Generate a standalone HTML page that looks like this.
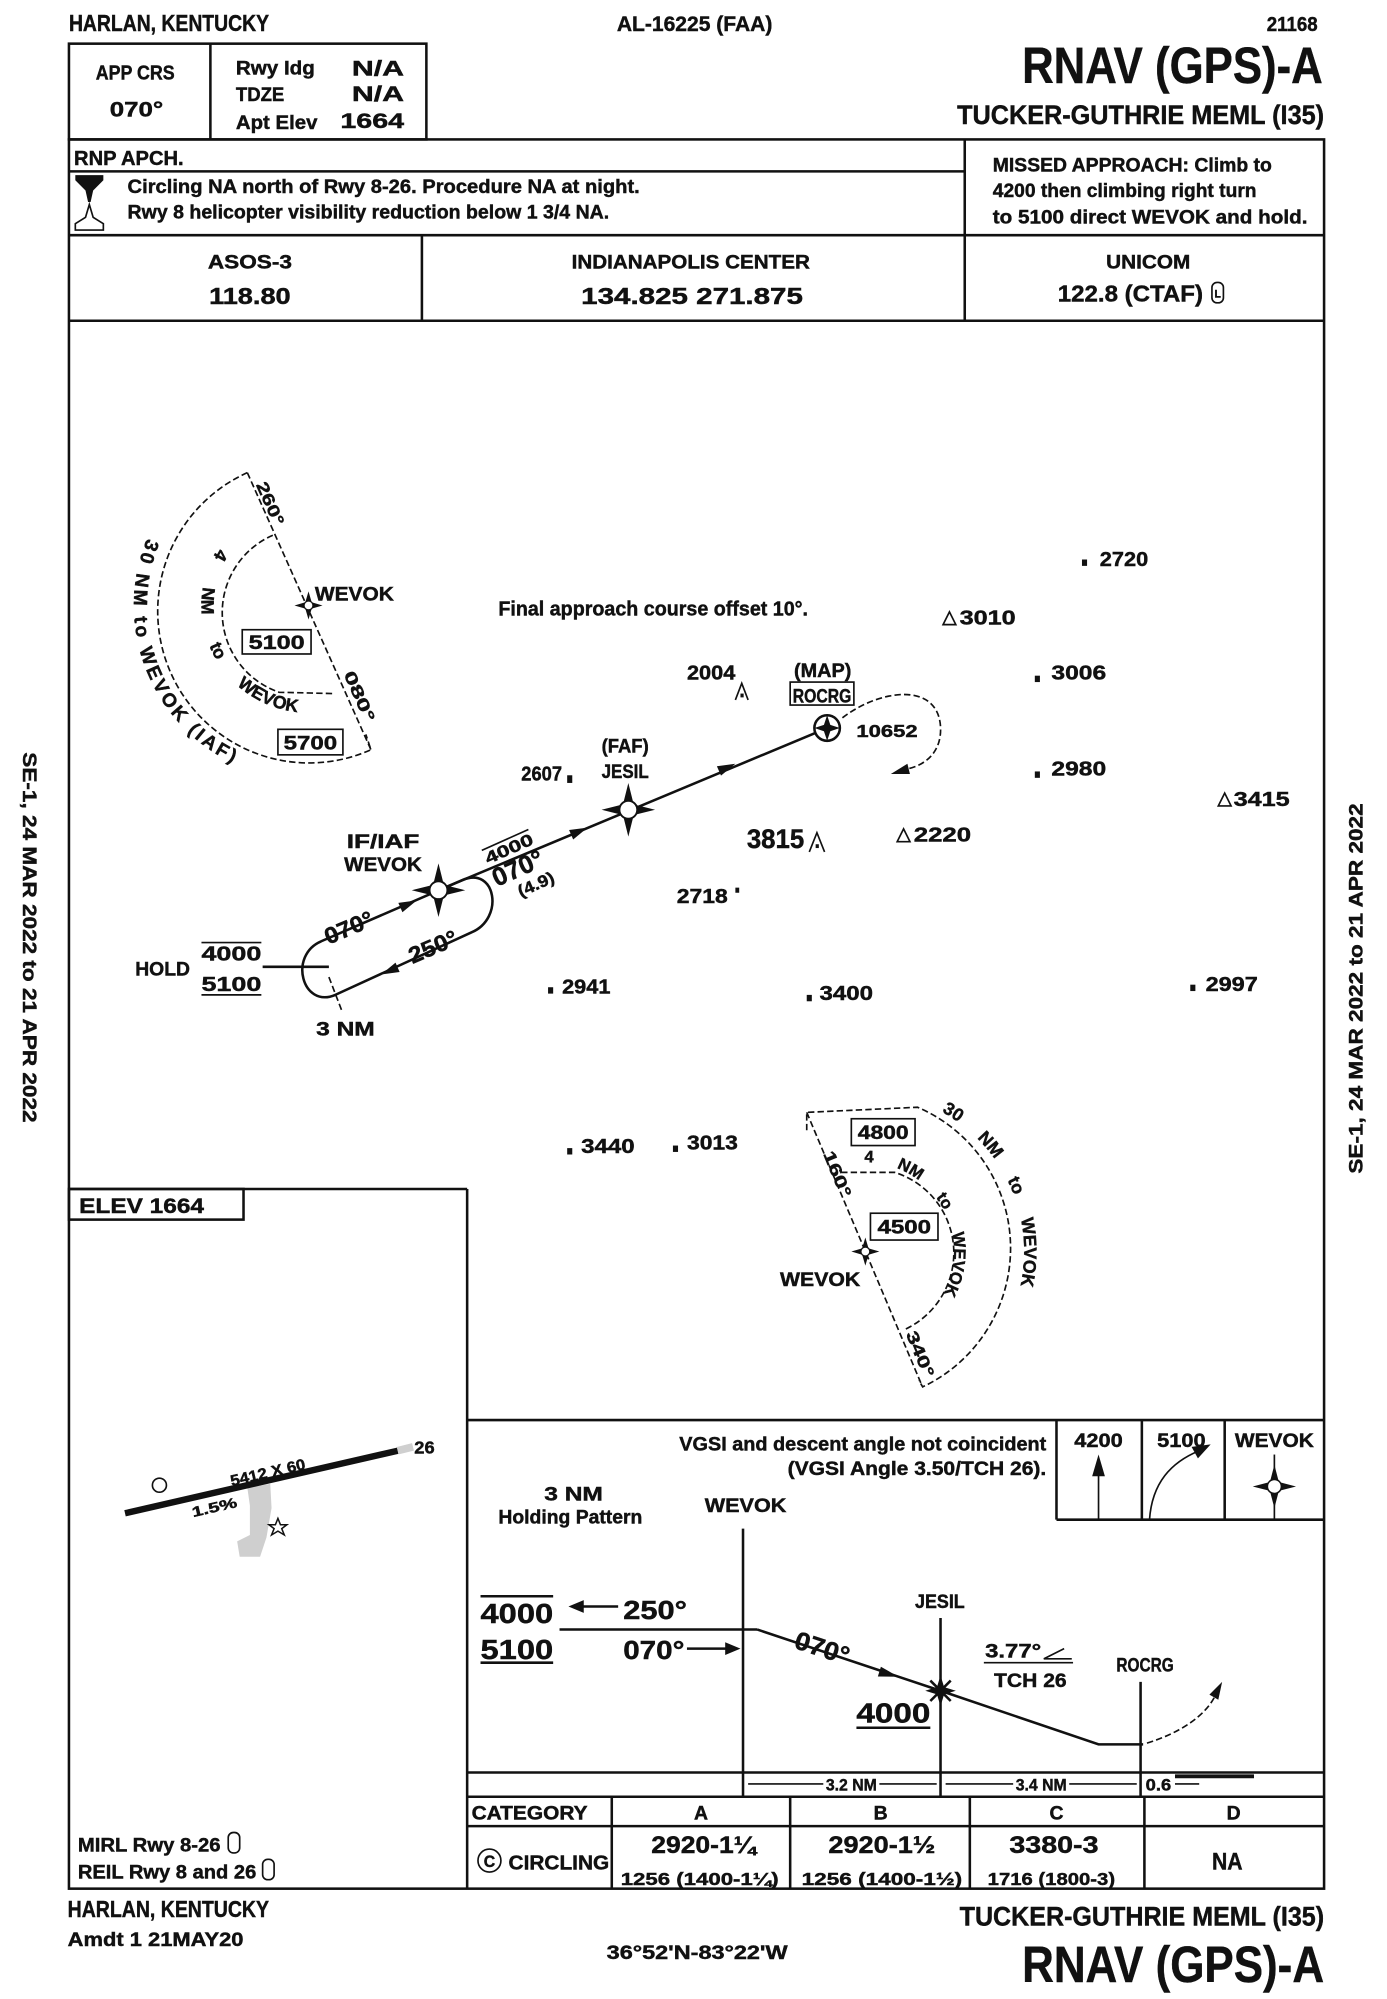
<!DOCTYPE html>
<html><head><meta charset="utf-8">
<style>
html,body{margin:0;padding:0;background:#fff;}
svg{display:block;}
text{font-family:"Liberation Sans Narrow","Liberation Sans",sans-serif;font-weight:bold;fill:#111;stroke:#111;stroke-width:0.35;}
.l{stroke:#111;stroke-width:2;fill:none;}
.t{stroke:#111;stroke-width:1.3;fill:none;}
.d{stroke:#111;stroke-width:1.3;fill:none;stroke-dasharray:5 2.5;}
.f{fill:#111;stroke:none;}
</style></head><body>
<svg width="1387" height="1999" viewBox="0 0 1080 1557" preserveAspectRatio="none" xmlns="http://www.w3.org/2000/svg">
<rect x="0" y="0" width="1080" height="1557" fill="#fff"/>
<defs>
<path id="p1" d="M 116.8 417.1 A 137 137 0 0 0 189.7 602"/>
<path id="p2" d="M 172.2 426.8 A 84 84 0 0 0 238.1 558.9"/>
<path id="p3" d="M 736.3 870.6 A 125 125 0 0 1 795.1 1023.8"/>
<path id="p4" d="M 675.2 911 A 70 70 0 0 1 734.9 1021.2"/>
</defs>
<g transform="matrix(0.9922 0 0 0.9945 1.1 -0.8)">

<!-- HEADER -->
<text x="53" y="25" font-size="18" textLength="157" lengthAdjust="spacingAndGlyphs">HARLAN, KENTUCKY</text>
<text x="483" y="25" font-size="17" textLength="122" lengthAdjust="spacingAndGlyphs">AL-16225 (FAA)</text>
<text x="1033" y="25" font-size="16" text-anchor="end" textLength="40" lengthAdjust="spacingAndGlyphs">21168</text>

<rect x="53" y="35" width="280.5" height="75" class="l"/>
<line x1="164" y1="35" x2="164" y2="110" class="l"/>
<text x="105" y="63" font-size="16" text-anchor="middle" textLength="62" lengthAdjust="spacingAndGlyphs">APP CRS</text>
<text x="106" y="92" font-size="17" text-anchor="middle" textLength="42" lengthAdjust="spacingAndGlyphs">070°</text>
<text x="184" y="59" font-size="15" textLength="62" lengthAdjust="spacingAndGlyphs">Rwy Idg</text>
<text x="184" y="80" font-size="15" textLength="38" lengthAdjust="spacingAndGlyphs">TDZE</text>
<text x="184" y="102" font-size="15" textLength="64" lengthAdjust="spacingAndGlyphs">Apt Elev</text>
<text x="275" y="60" font-size="17" textLength="41" lengthAdjust="spacingAndGlyphs">N/A</text>
<text x="275" y="80" font-size="17" textLength="41" lengthAdjust="spacingAndGlyphs">N/A</text>
<text x="266" y="101" font-size="17" textLength="50" lengthAdjust="spacingAndGlyphs">1664</text>

<text x="801" y="66" font-size="40" textLength="236" lengthAdjust="spacingAndGlyphs">RNAV (GPS)-A</text>
<text x="750" y="98" font-size="21" textLength="288" lengthAdjust="spacingAndGlyphs">TUCKER-GUTHRIE MEML (I35)</text>

<!-- main frame -->
<rect x="53" y="110" width="985" height="1370" class="l"/>
<line x1="53" y1="135" x2="756" y2="135" class="l"/>
<line x1="756" y1="110" x2="756" y2="252" class="l"/>
<line x1="53" y1="185" x2="1038" y2="185" class="l"/>
<line x1="330" y1="185" x2="330" y2="252" class="l"/>
<line x1="53" y1="252" x2="1038" y2="252" class="l"/>

<text x="57" y="130" font-size="16" textLength="86" lengthAdjust="spacingAndGlyphs">RNP APCH.</text>
<!-- hourglass -->
<polygon points="58,138 80,138 80,142 72,150 70,159 68,159 66,150 58,142" class="f"/>
<path d="M 69,161 L 66,171 L 58,176 L 58,181 L 80,181 L 80,176 L 72,171 Z" class="t" stroke-width="1.6"/>
<text x="99" y="152" font-size="15" textLength="402" lengthAdjust="spacingAndGlyphs">Circling NA north of Rwy 8-26.  Procedure NA at night.</text>
<text x="99" y="172" font-size="15" textLength="378" lengthAdjust="spacingAndGlyphs">Rwy 8 helicopter visibility reduction below 1 3/4 NA.</text>

<text x="778" y="135" font-size="15" textLength="219" lengthAdjust="spacingAndGlyphs">MISSED APPROACH: Climb to</text>
<text x="778" y="155" font-size="15" textLength="207" lengthAdjust="spacingAndGlyphs">4200 then climbing right turn</text>
<text x="778" y="176" font-size="15" textLength="247" lengthAdjust="spacingAndGlyphs">to 5100 direct WEVOK and hold.</text>

<text x="195" y="211" font-size="15" text-anchor="middle" textLength="66" lengthAdjust="spacingAndGlyphs">ASOS-3</text>
<text x="195" y="239" font-size="18" text-anchor="middle" textLength="64" lengthAdjust="spacingAndGlyphs">118.80</text>
<text x="541" y="211" font-size="15" text-anchor="middle" textLength="187" lengthAdjust="spacingAndGlyphs">INDIANAPOLIS CENTER</text>
<text x="455" y="239" font-size="18" textLength="174" lengthAdjust="spacingAndGlyphs">134.825   271.875</text>
<text x="900" y="211" font-size="15" text-anchor="middle" textLength="66" lengthAdjust="spacingAndGlyphs">UNICOM</text>
<text x="829" y="237" font-size="18" textLength="114" lengthAdjust="spacingAndGlyphs">122.8 (CTAF)</text>
<rect x="950" y="222" width="9" height="16" rx="4" class="t" stroke-width="2"/>
<text x="952" y="234" font-size="9" textLength="5" lengthAdjust="spacingAndGlyphs">L</text>

<!-- side texts -->
<text transform="translate(17,590) rotate(90)" font-size="15" textLength="290" lengthAdjust="spacingAndGlyphs">SE-1, 24 MAR 2022 to 21 APR 2022</text>
<text transform="translate(1068,920) rotate(-90)" font-size="15" textLength="290" lengthAdjust="spacingAndGlyphs">SE-1, 24 MAR 2022 to 21 APR 2022</text>

<!-- PLAN VIEW: top-left TAA -->
<path d="M 193,371 A 118 118 0 0 0 290,588 L 286,576" class="d"/>
<line x1="193" y1="371" x2="290" y2="588" class="d"/>
<path d="M 213,420 A 66 66 0 0 0 218,543 L 261,544" class="d"/>
<polygon points="241,464 243.5,472.5 252,475 243.5,477.5 241,486 238.5,477.5 230,475 238.5,472.5" class="f"/>
<circle cx="241" cy="475" r="3.5" fill="#fff" stroke="#111" stroke-width="1"/>
<text x="246" y="471" font-size="15" textLength="62" lengthAdjust="spacingAndGlyphs">WEVOK</text>
<rect x="189" y="494" width="54" height="19" class="t" stroke-width="1.6"/>
<text x="216" y="509" font-size="15" text-anchor="middle" textLength="44" lengthAdjust="spacingAndGlyphs">5100</text>
<rect x="217" y="572" width="51" height="20" class="t" stroke-width="1.6"/>
<text x="242.5" y="588" font-size="15" text-anchor="middle" textLength="42" lengthAdjust="spacingAndGlyphs">5700</text>
<text font-size="15" letter-spacing="2.4"><textPath href="#p1" startOffset="6">30 NM to WEVOK (IAF)</textPath></text>
<text font-size="14" word-spacing="21"><textPath href="#p2" startOffset="4">4 NM to WEVOK</textPath></text>
<text transform="translate(207,397) rotate(66)" font-size="13" text-anchor="middle" textLength="36" lengthAdjust="spacingAndGlyphs">260°</text>
<text transform="translate(277,548) rotate(66)" font-size="13" text-anchor="middle" textLength="42" lengthAdjust="spacingAndGlyphs">080°</text>

<text x="390" y="483" font-size="16" textLength="243" lengthAdjust="spacingAndGlyphs">Final approach course offset 10°.</text>

<!-- obstacles -->
<rect x="848" y="439" width="4" height="5" class="f"/>
<text x="862" y="444" font-size="16" textLength="38" lengthAdjust="spacingAndGlyphs">2720</text>
<polygon points="739,490 744,480 749,490" class="t"/>
<text x="752" y="490" font-size="16" textLength="44" lengthAdjust="spacingAndGlyphs">3010</text>
<text x="538" y="533" font-size="16" textLength="38" lengthAdjust="spacingAndGlyphs">2004</text>
<path d="M 576,549 L 581,536 L 586,549" class="t"/><rect x="580" y="544" width="2.5" height="3" class="f"/>
<rect x="811" y="530" width="4" height="5" class="f"/>
<text x="824" y="533" font-size="16" textLength="43" lengthAdjust="spacingAndGlyphs">3006</text>
<rect x="811" y="605" width="4" height="5" class="f"/>
<text x="824" y="608" font-size="16" textLength="43" lengthAdjust="spacingAndGlyphs">2980</text>
<polygon points="955,632 960,622 965,632" class="t"/>
<text x="967" y="632" font-size="16" textLength="44" lengthAdjust="spacingAndGlyphs">3415</text>
<text x="585" y="665" font-size="21" textLength="45" lengthAdjust="spacingAndGlyphs">3815</text>
<path d="M 634,668 L 640,653 L 646,668" class="t"/><rect x="639" y="662" width="2.5" height="3" class="f"/>
<polygon points="703,660 708,650 713,660" class="t"/>
<text x="716" y="660" font-size="16" textLength="45" lengthAdjust="spacingAndGlyphs">2220</text>
<text x="530" y="708" font-size="16" textLength="40" lengthAdjust="spacingAndGlyphs">2718</text>
<rect x="576" y="696" width="3" height="4" class="f"/>
<text x="408" y="612" font-size="16" textLength="32" lengthAdjust="spacingAndGlyphs">2607</text>
<rect x="444" y="608" width="4" height="6" class="f"/>
<rect x="429" y="774" width="4" height="5" class="f"/>
<text x="440" y="779" font-size="16" textLength="38" lengthAdjust="spacingAndGlyphs">2941</text>
<rect x="632" y="780" width="4" height="5" class="f"/>
<text x="642" y="784" font-size="16" textLength="42" lengthAdjust="spacingAndGlyphs">3400</text>
<rect x="933" y="772" width="4" height="5" class="f"/>
<text x="945" y="777" font-size="16" textLength="41" lengthAdjust="spacingAndGlyphs">2997</text>
<rect x="444" y="900" width="4" height="5" class="f"/>
<text x="455" y="904" font-size="16" textLength="42" lengthAdjust="spacingAndGlyphs">3440</text>
<rect x="527" y="898" width="4" height="5" class="f"/>
<text x="538" y="901" font-size="16" textLength="40" lengthAdjust="spacingAndGlyphs">3013</text>

<!-- hold & approach track -->
<text x="105" y="765" font-size="15" textLength="43" lengthAdjust="spacingAndGlyphs">HOLD</text>
<line x1="157" y1="739" x2="204" y2="739" class="t" stroke-width="1.6"/>
<text x="157" y="753" font-size="16" textLength="47" lengthAdjust="spacingAndGlyphs">4000</text>
<text x="157" y="777" font-size="16" textLength="47" lengthAdjust="spacingAndGlyphs">5100</text>
<line x1="157" y1="780" x2="204" y2="780" class="t" stroke-width="1.6"/>
<line x1="205" y1="758" x2="257" y2="758" class="l"/>
<path d="M 251,738 L 362,690 C 388,679 395,720 369,731 L 262,780 C 236,791 225,749 251,738" class="l"/>
<line x1="257" y1="766" x2="267" y2="792" class="d"/>
<text x="247" y="812" font-size="15" textLength="46" lengthAdjust="spacingAndGlyphs">3 NM</text>
<polygon points="326,706 314.7,715.3 311.5,707.9" class="f"/>
<polygon points="298,764 312.5,762.1 309.3,754.7" class="f"/>
<text transform="translate(275,733) rotate(-23)" font-size="18" text-anchor="middle" textLength="40" lengthAdjust="spacingAndGlyphs">070°</text>
<text transform="translate(341,748) rotate(-23)" font-size="18" text-anchor="middle" textLength="40" lengthAdjust="spacingAndGlyphs">250°</text>
<text x="271" y="665" font-size="15" textLength="57" lengthAdjust="spacingAndGlyphs">IF/IAF</text>
<text x="269" y="683" font-size="15" textLength="61" lengthAdjust="spacingAndGlyphs">WEVOK</text>

<line x1="343" y1="698" x2="648" y2="571" class="l"/>
<polygon points="460,649 448.7,658.3 445.5,650.9" class="f"/>
<polygon points="576,599 564.7,608.3 561.5,600.9" class="f"/>
<g transform="translate(403,676) rotate(-24)">
<line x1="-20" y1="-19" x2="20" y2="-19" class="t"/>
<text x="0" y="-7" font-size="13" text-anchor="middle" textLength="40" lengthAdjust="spacingAndGlyphs">4000</text>
<text x="0" y="12" font-size="20" text-anchor="middle" textLength="42" lengthAdjust="spacingAndGlyphs">070°</text>
<text x="8" y="27" font-size="13" text-anchor="middle" textLength="30" lengthAdjust="spacingAndGlyphs">(4.9)</text>
</g>
<!-- WEVOK star -->
<polygon points="343,677 347.2,693.8 364,698 347.2,702.2 343,719 338.8,702.2 322,698 338.8,693.8" class="f"/>
<circle cx="343" cy="698" r="7" fill="#fff" stroke="#111" stroke-width="1.5"/>
<!-- JESIL -->
<text x="471" y="590" font-size="15" textLength="37" lengthAdjust="spacingAndGlyphs">(FAF)</text>
<text x="471" y="610" font-size="15" textLength="37" lengthAdjust="spacingAndGlyphs">JESIL</text>
<polygon points="492,614 496.2,630.8 513,635 496.2,639.2 492,656 487.8,639.2 471,635 487.8,630.8" class="f"/>
<circle cx="492" cy="635" r="7" fill="#fff" stroke="#111" stroke-width="1.5"/>
<!-- MAP -->
<text x="622" y="531" font-size="15" textLength="45" lengthAdjust="spacingAndGlyphs">(MAP)</text>
<rect x="619" y="535" width="50" height="18" class="t" stroke-width="1.6"/>
<text x="621" y="551" font-size="15" textLength="46" lengthAdjust="spacingAndGlyphs">ROCRG</text>
<circle cx="648" cy="571" r="10" fill="#fff" stroke="#111" stroke-width="2"/>
<polygon points="648,561 650.5,568.5 658,571 650.5,573.5 648,581 645.5,573.5 638,571 645.5,568.5" class="f"/>
<text x="671" y="578" font-size="14" textLength="48" lengthAdjust="spacingAndGlyphs">10652</text>
<path d="M 660,563 C 690,540 735,535 737,570 C 738,590 725,600 711,603" class="d" stroke-width="1.6"/>
<polygon points="698,607 711,599 713,607" class="f"/>

<!-- lower TAA -->
<path d="M 632,886 L 632,872 L 719,868 A 120 120 0 0 1 723,1087 L 720,1082" class="d"/>
<line x1="632" y1="872" x2="722" y2="1085" class="d"/>
<path d="M 659,919 L 701,919 A 66 66 0 0 1 709,1042" class="d"/>
<polygon points="678,970 680.5,978.5 689,981 680.5,983.5 678,992 675.5,983.5 667,981 675.5,978.5" class="f"/>
<circle cx="678" cy="981" r="3.5" fill="#fff" stroke="#111" stroke-width="1"/>
<text x="611" y="1008" font-size="15" textLength="63" lengthAdjust="spacingAndGlyphs">WEVOK</text>
<rect x="667" y="877" width="50" height="21" class="t" stroke-width="1.6"/>
<text x="692" y="893" font-size="15" text-anchor="middle" textLength="40" lengthAdjust="spacingAndGlyphs">4800</text>
<rect x="682" y="951" width="53" height="21" class="t" stroke-width="1.6"/>
<text x="708.5" y="967" font-size="15" text-anchor="middle" textLength="42" lengthAdjust="spacingAndGlyphs">4500</text>
<text font-size="14" word-spacing="15"><textPath href="#p3" startOffset="2">30 NM to WEVOK</textPath></text>
<text font-size="13" word-spacing="15"><textPath href="#p4" startOffset="2">4 NM to WEVOK</textPath></text>
<text transform="translate(652,922) rotate(67.5)" font-size="13" text-anchor="middle" textLength="38" lengthAdjust="spacingAndGlyphs">160°</text>
<text transform="translate(717,1063) rotate(67.5)" font-size="13" text-anchor="middle" textLength="38" lengthAdjust="spacingAndGlyphs">340°</text>

<!-- AIRPORT SKETCH -->
<line x1="53" y1="932" x2="365.5" y2="932" class="l"/>
<line x1="365.5" y1="932" x2="365.5" y2="1480" class="l"/>
<rect x="53" y="932" width="137" height="24" class="l"/>
<text x="61" y="951" font-size="17" textLength="98" lengthAdjust="spacingAndGlyphs">ELEV 1664</text>
<polygon points="193,1166 211,1163 212,1182 208,1205 203,1220 187,1220 185,1208 195,1203 195,1180" fill="#cfcfcf"/>
<line x1="97" y1="1186" x2="311" y2="1137" stroke="#111" stroke-width="5"/>
<line x1="311" y1="1137" x2="323" y2="1134" stroke="#cfcfcf" stroke-width="6"/>
<text x="324" y="1139" font-size="14" textLength="16" lengthAdjust="spacingAndGlyphs">26</text>
<circle cx="124" cy="1164" r="5.5" class="t" stroke-width="2"/>
<text transform="translate(210,1158) rotate(-13)" font-size="12" text-anchor="middle" textLength="60" lengthAdjust="spacingAndGlyphs">5412 X 60</text>
<text transform="translate(168,1185) rotate(-13)" font-size="11" text-anchor="middle" textLength="36" lengthAdjust="spacingAndGlyphs">1.5%</text>
<polygon points="217,1190 219,1195 224,1195 220,1198 222,1203 217,1200 212,1203 214,1198 210,1195 215,1195" fill="#fff" stroke="#111" stroke-width="1.2"/>
<text x="60" y="1451" font-size="15" textLength="112" lengthAdjust="spacingAndGlyphs">MIRL Rwy 8-26</text>
<rect x="178" y="1436" width="9" height="16" rx="4" class="t" stroke-width="2"/>
<text x="60" y="1472" font-size="15" textLength="140" lengthAdjust="spacingAndGlyphs">REIL Rwy 8 and 26</text>
<rect x="205" y="1457" width="9" height="16" rx="4" class="t" stroke-width="2"/>

<!-- PROFILE -->
<line x1="365.5" y1="1113" x2="1038" y2="1113" class="l"/>
<line x1="828" y1="1113" x2="828" y2="1191" class="l"/>
<line x1="828" y1="1191" x2="1038" y2="1191" class="l"/>
<line x1="895" y1="1113" x2="895" y2="1191" class="l"/>
<line x1="960" y1="1113" x2="960" y2="1191" class="l"/>
<text x="861" y="1134" font-size="15" text-anchor="middle" textLength="38" lengthAdjust="spacingAndGlyphs">4200</text>
<line x1="861" y1="1150" x2="861" y2="1191" class="t" stroke-width="1.6"/>
<polygon points="861,1140 856,1157 866,1157" class="f"/>
<text x="926" y="1134" font-size="15" text-anchor="middle" textLength="38" lengthAdjust="spacingAndGlyphs">5100</text>
<path d="M 901,1191 C 903,1162 918,1146 940,1137" class="t" stroke-width="1.6"/>
<polygon points="949,1132 934,1134 939,1143" class="f"/>
<text x="999" y="1134" font-size="15" text-anchor="middle" textLength="62" lengthAdjust="spacingAndGlyphs">WEVOK</text>
<line x1="999" y1="1140" x2="999" y2="1191" class="t"/>
<polygon points="999,1148 1002.5,1161.5 1016,1165 1002.5,1168.5 999,1182 995.5,1168.5 982,1165 995.5,1161.5" class="f"/>
<circle cx="999" cy="1165" r="5.5" fill="#fff" stroke="#111" stroke-width="1.2"/>

<text x="820" y="1137" font-size="15" text-anchor="end" textLength="288" lengthAdjust="spacingAndGlyphs">VGSI and descent angle not coincident</text>
<text x="820" y="1156" font-size="15" text-anchor="end" textLength="203" lengthAdjust="spacingAndGlyphs">(VGSI Angle 3.50/TCH 26).</text>

<text x="449" y="1176" font-size="15" text-anchor="middle" textLength="46" lengthAdjust="spacingAndGlyphs">3 NM</text>
<text x="390" y="1194" font-size="15" textLength="113" lengthAdjust="spacingAndGlyphs">Holding Pattern</text>
<text x="552" y="1185" font-size="15" textLength="64" lengthAdjust="spacingAndGlyphs">WEVOK</text>
<line x1="582" y1="1198" x2="582" y2="1408" class="l"/>
<text x="717" y="1260" font-size="15" textLength="39" lengthAdjust="spacingAndGlyphs">JESIL</text>
<line x1="737" y1="1268" x2="737" y2="1408" class="l"/>
<text x="875" y="1310" font-size="15" textLength="45" lengthAdjust="spacingAndGlyphs">ROCRG</text>
<line x1="894" y1="1318" x2="894" y2="1408" class="l"/>

<line x1="376" y1="1251" x2="433" y2="1251" class="l"/>
<text x="376" y="1272" font-size="22" textLength="57" lengthAdjust="spacingAndGlyphs">4000</text>
<text x="376" y="1300" font-size="22" textLength="57" lengthAdjust="spacingAndGlyphs">5100</text>
<line x1="376" y1="1303" x2="433" y2="1303" class="l"/>
<line x1="438" y1="1277" x2="593" y2="1277" class="l"/>
<line x1="452" y1="1259" x2="484" y2="1259" class="l"/>
<polygon points="445,1259 457,1254 457,1264" class="f"/>
<text x="488" y="1269" font-size="20" textLength="50" lengthAdjust="spacingAndGlyphs">250°</text>
<text x="488" y="1300" font-size="20" textLength="48" lengthAdjust="spacingAndGlyphs">070°</text>
<line x1="538" y1="1292" x2="572" y2="1292" class="l"/>
<polygon points="580,1292 568,1287 568,1297" class="f"/>
<path d="M 593,1277 L 737,1325 L 861,1367 L 896,1367" class="l" stroke-width="2.5"/>
<polygon points="704,1314 690.2,1306.2 687.8,1313.8" class="f"/>
<text transform="translate(642,1298) rotate(18)" font-size="20" text-anchor="middle" textLength="44" lengthAdjust="spacingAndGlyphs">070°</text>
<polygon points="737,1313 739.8,1322.2 749,1325 739.8,1327.8 737,1337 734.2,1327.8 725,1325 734.2,1322.2" class="f"/>
<path d="M 729,1317 L 745,1333 M 745,1317 L 729,1333" class="l"/>
<text x="671" y="1350" font-size="22" textLength="58" lengthAdjust="spacingAndGlyphs">4000</text>
<line x1="671" y1="1354" x2="729" y2="1354" class="l"/>
<text x="772" y="1299" font-size="15" textLength="44" lengthAdjust="spacingAndGlyphs">3.77°</text>
<path d="M 818,1300 L 840,1300 M 818,1300 L 834,1292" class="t"/>
<line x1="771" y1="1303" x2="841" y2="1303" class="t" stroke-width="1.6"/>
<text x="779" y="1322" font-size="15" textLength="57" lengthAdjust="spacingAndGlyphs">TCH 26</text>
<path d="M 899,1366 C 925,1358 944,1345 952,1330" class="d" stroke-width="1.6"/>
<polygon points="958,1318 948,1328 955,1332" class="f"/>

<!-- distance row -->
<line x1="365.5" y1="1389" x2="1038" y2="1389" class="l"/>
<line x1="365.5" y1="1408" x2="1038" y2="1408" class="l"/>
<line x1="586" y1="1398" x2="645" y2="1398" class="t"/>
<line x1="689" y1="1398" x2="734" y2="1398" class="t"/>
<text x="667" y="1403" font-size="13" text-anchor="middle" textLength="40" lengthAdjust="spacingAndGlyphs">3.2 NM</text>
<line x1="741" y1="1398" x2="794" y2="1398" class="t"/>
<line x1="838" y1="1398" x2="891" y2="1398" class="t"/>
<text x="816" y="1403" font-size="13" text-anchor="middle" textLength="40" lengthAdjust="spacingAndGlyphs">3.4 NM</text>
<text x="898" y="1403" font-size="13" textLength="20" lengthAdjust="spacingAndGlyphs">0.6</text>
<line x1="921" y1="1392" x2="983" y2="1392" stroke="#111" stroke-width="3"/>
<line x1="921" y1="1398" x2="940" y2="1398" class="t"/>

<!-- minimums table -->
<line x1="365.5" y1="1431" x2="1038" y2="1431" class="l"/>
<line x1="479" y1="1408" x2="479" y2="1480" class="l"/>
<line x1="619" y1="1408" x2="619" y2="1480" class="l"/>
<line x1="760" y1="1408" x2="760" y2="1480" class="l"/>
<line x1="897" y1="1408" x2="897" y2="1480" class="l"/>
<text x="369" y="1426" font-size="15" textLength="91" lengthAdjust="spacingAndGlyphs">CATEGORY</text>
<text x="549" y="1426" font-size="15" text-anchor="middle" textLength="11" lengthAdjust="spacingAndGlyphs">A</text>
<text x="690" y="1426" font-size="15" text-anchor="middle" textLength="11" lengthAdjust="spacingAndGlyphs">B</text>
<text x="828" y="1426" font-size="15" text-anchor="middle" textLength="11" lengthAdjust="spacingAndGlyphs">C</text>
<text x="967" y="1426" font-size="15" text-anchor="middle" textLength="11" lengthAdjust="spacingAndGlyphs">D</text>
<circle cx="383" cy="1458" r="9" class="t" stroke-width="2"/>
<text x="383" y="1463" font-size="13" text-anchor="middle" textLength="9" lengthAdjust="spacingAndGlyphs">C</text>
<text x="398" y="1465" font-size="16" textLength="79" lengthAdjust="spacingAndGlyphs">CIRCLING</text>
<text x="551" y="1452" font-size="19" text-anchor="middle" textLength="82" lengthAdjust="spacingAndGlyphs">2920-1¼</text>
<text x="548" y="1477" font-size="14" text-anchor="middle" textLength="124" lengthAdjust="spacingAndGlyphs">1256 (1400-1¼)</text>
<text x="691" y="1452" font-size="19" text-anchor="middle" textLength="84" lengthAdjust="spacingAndGlyphs">2920-1½</text>
<text x="691" y="1477" font-size="14" text-anchor="middle" textLength="126" lengthAdjust="spacingAndGlyphs">1256 (1400-1½)</text>
<text x="826" y="1452" font-size="19" text-anchor="middle" textLength="70" lengthAdjust="spacingAndGlyphs">3380-3</text>
<text x="824" y="1477" font-size="14" text-anchor="middle" textLength="100" lengthAdjust="spacingAndGlyphs">1716 (1800-3)</text>
<text x="962" y="1465" font-size="19" text-anchor="middle" textLength="24" lengthAdjust="spacingAndGlyphs">NA</text>

<!-- FOOTER -->
<text x="52" y="1502" font-size="18" textLength="158" lengthAdjust="spacingAndGlyphs">HARLAN, KENTUCKY</text>
<text x="52" y="1525" font-size="15" textLength="138" lengthAdjust="spacingAndGlyphs">Amdt 1  21MAY20</text>
<text x="475" y="1535" font-size="15" textLength="142" lengthAdjust="spacingAndGlyphs">36°52'N-83°22'W</text>
<text x="752" y="1509" font-size="21" textLength="286" lengthAdjust="spacingAndGlyphs">TUCKER-GUTHRIE MEML (I35)</text>
<text x="801" y="1553" font-size="40" textLength="237" lengthAdjust="spacingAndGlyphs">RNAV (GPS)-A</text>
</g>
</svg>
</body></html>
